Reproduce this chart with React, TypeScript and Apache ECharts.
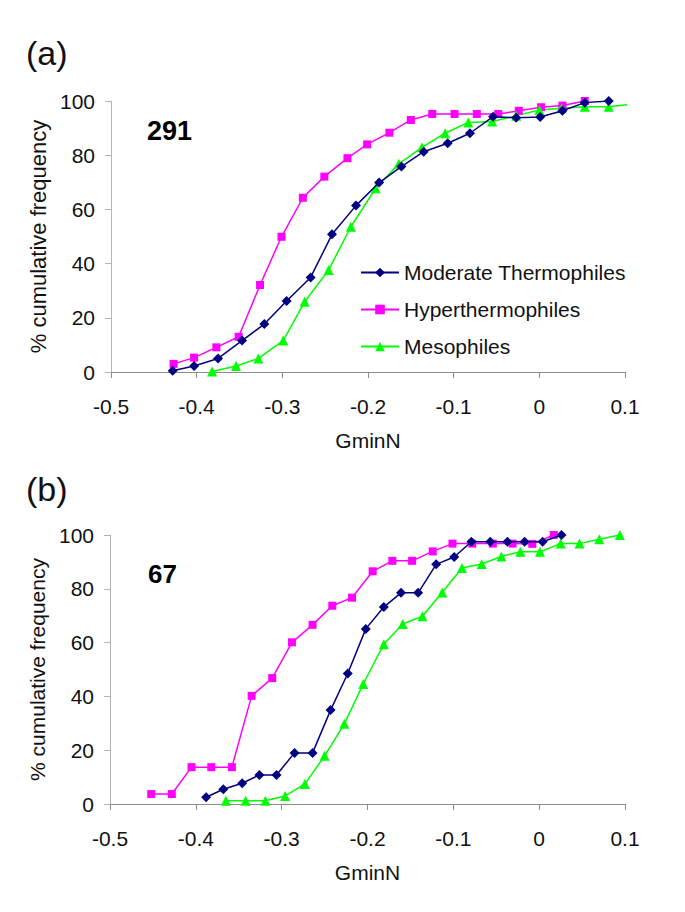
import React, { useEffect, useRef } from "react";
import * as echarts from "echarts";

// ---- Panel (a) data ----
const modA_x = [-0.428, -0.403, -0.375, -0.347, -0.321, -0.295, -0.267, -0.242, -0.214, -0.187, -0.161, -0.135, -0.107, -0.081, -0.054, -0.027, 0.001, 0.027, 0.053, 0.081];
const modA_y = [0.5, 2.2, 5.0, 11.6, 17.7, 26.2, 34.9, 50.8, 61.4, 69.9, 75.8, 81.3, 84.4, 88.1, 94.2, 93.8, 94.1, 96.4, 99.4, 100];
const hypA_x = [-0.427, -0.403, -0.377, -0.351, -0.326, -0.301, -0.276, -0.251, -0.224, -0.201, -0.175, -0.150, -0.125, -0.099, -0.073, -0.048, -0.024, 0.002, 0.027, 0.053];
const hypA_y = [3.0, 5.3, 9.1, 13.0, 32.1, 49.9, 64.3, 72.1, 78.9, 84.0, 88.3, 93.0, 95.2, 95.2, 95.2, 95.2, 96.4, 97.7, 98.3, 100];
const mesA_x = [-0.382, -0.354, -0.328, -0.299, -0.274, -0.246, -0.220, -0.191, -0.164, -0.137, -0.110, -0.083, -0.055, -0.027, 0.000, 0.026, 0.053, 0.081, 0.108];
const mesA_y = [0.2, 2.2, 5.0, 11.6, 25.9, 37.6, 53.6, 67.8, 76.8, 82.9, 88.1, 92.1, 92.4, 94.6, 96.7, 97.3, 97.9, 97.9, 98.8];

// ---- Panel (b) data ----
const modB_x = [-0.388, -0.368, -0.346, -0.326, -0.306, -0.285, -0.264, -0.243, -0.223, -0.202, -0.181, -0.161, -0.141, -0.120, -0.099, -0.079, -0.057, -0.037, -0.017, 0.004, 0.026];
const modB_y = [2.5, 5.5, 7.7, 10.8, 10.8, 19.0, 19.0, 34.9, 48.5, 65.1, 73.2, 78.5, 78.5, 89.1, 91.8, 97.5, 97.5, 97.5, 97.5, 97.5, 100];
const hypB_x = [-0.452, -0.428, -0.405, -0.382, -0.358, -0.335, -0.311, -0.288, -0.264, -0.241, -0.218, -0.194, -0.171, -0.148, -0.124, -0.101, -0.078, -0.054, -0.031, -0.008, 0.017];
const hypB_y = [3.7, 3.7, 13.7, 13.7, 13.7, 40.2, 46.8, 60.1, 66.6, 73.7, 76.7, 86.5, 90.4, 90.4, 93.9, 96.8, 96.8, 96.8, 96.8, 96.7, 100];
const mesB_x = [-0.365, -0.342, -0.319, -0.296, -0.273, -0.250, -0.227, -0.205, -0.181, -0.159, -0.136, -0.113, -0.090, -0.067, -0.044, -0.022, 0.001, 0.025, 0.047, 0.070, 0.094];
const mesB_y = [1.2, 1.2, 1.2, 3.0, 7.4, 17.9, 29.8, 44.6, 59.4, 66.9, 69.8, 78.6, 87.7, 89.2, 92.0, 93.8, 93.8, 96.8, 96.8, 98.4, 100];

const seriesNames = ["Moderate Thermophiles", "Hyperthermophiles", "Mesophiles"];
const seriesColors = ["#000080", "#FF00FF", "#00FF00"];
const seriesSymbols = ["diamond", "rect", "triangle"];
const seriesSymbolSizes = [10, 8, 10];

const panelLabels = ["(a)", "(b)"];
const panelCounts = ["291", "67"];
const xAxisTitle = "GminN";
const yAxisTitle = "% cumulative frequency";

const FONT = "'Liberation Sans', Arial, Helvetica, sans-serif";

const zip = (xs: number[], ys: number[]) => xs.map((x, i) => [x, ys[i]]);

export default function App() {
  const ref = useRef<HTMLDivElement>(null);
  useEffect(() => {
    if (!ref.current) return;
    const chart = echarts.init(ref.current, null, { renderer: "svg" });
    const panelData = [
      [zip(modA_x, modA_y), zip(hypA_x, hypA_y), zip(mesA_x, mesA_y)],
      [zip(modB_x, modB_y), zip(hypB_x, hypB_y), zip(mesB_x, mesB_y)],
    ];
    const xFmt = (v: number) => (Math.abs(v) < 1e-9 ? "0" : String(parseFloat(v.toFixed(1))));
    const mkX = (gi: number) => ({
      type: "value",
      gridIndex: gi,
      min: -0.5,
      max: 0.1,
      interval: 0.1,
      name: xAxisTitle,
      nameLocation: "middle",
      nameGap: 58,
      nameTextStyle: { fontSize: 21, color: "#111", fontFamily: FONT },
      axisLine: { show: true, onZero: false, lineStyle: { color: "#8c8c8c", width: 1 } },
      axisTick: { show: true, inside: false, length: 6, lineStyle: { color: "#8c8c8c" } },
      axisLabel: { fontSize: 21, color: "#111", fontFamily: FONT, margin: 24, formatter: xFmt },
      splitLine: { show: false },
    });
    const mkY = (gi: number, fs: number) => ({
      type: "value",
      gridIndex: gi,
      min: 0,
      max: 100,
      interval: 20,
      name: yAxisTitle,
      nameLocation: "middle",
      nameGap: 61,
      nameRotate: 90,
      nameTextStyle: { fontSize: fs, color: "#111", fontFamily: FONT },
      axisLine: { show: true, onZero: false, lineStyle: { color: "#b5b5b5", width: 1 } },
      axisTick: { show: true, inside: false, length: 6, lineStyle: { color: "#b5b5b5" } },
      axisLabel: { fontSize: 21, color: "#111", fontFamily: FONT, margin: 16 },
      splitLine: { show: false },
    });
    const series: any[] = [];
    panelData.forEach((pd, gi) => {
      pd.forEach((d, si) => {
        series.push({
          type: "line",
          name: seriesNames[si],
          xAxisIndex: gi,
          yAxisIndex: gi,
          data: d,
          symbol: seriesSymbols[si],
          symbolSize: seriesSymbolSizes[si],
          showAllSymbol: true,
          color: seriesColors[si],
          lineStyle: { color: seriesColors[si], width: 1.5 },
          itemStyle: { color: seriesColors[si] },
          clip: true,
          z: si === 0 ? 3 : 2,
        });
      });
    });
    chart.setOption({
      animation: false,
      backgroundColor: "#ffffff",
      textStyle: { fontFamily: FONT },
      grid: [
        { left: 111, top: 101, width: 514, height: 271, containLabel: false },
        { left: 110, top: 535, width: 515, height: 269, containLabel: false },
      ],
      xAxis: [mkX(0), mkX(1)],
      yAxis: [mkY(0, 22), mkY(1, 21)],
      legend: {
        orient: "vertical",
        left: 355,
        top: 257,
        itemWidth: 38,
        itemHeight: 12,
        itemGap: 16,
        data: seriesNames,
        selectedMode: false,
        textStyle: { fontSize: 21, color: "#111", fontFamily: FONT },
      },
      graphic: [
        { type: "text", left: 26, top: 36, style: { text: panelLabels[0], fontSize: 34, fill: "#111", fontFamily: FONT } },
        { type: "text", left: 26, top: 472, style: { text: panelLabels[1], fontSize: 34, fill: "#111", fontFamily: FONT } },
        { type: "text", left: 147, top: 117, style: { text: panelCounts[0], fontSize: 27, fontWeight: "bold", fill: "#000", fontFamily: FONT } },
        { type: "text", left: 148, top: 561, style: { text: panelCounts[1], fontSize: 26, fontWeight: "bold", fill: "#000", fontFamily: FONT } },
      ],
      series,
    });
    return () => chart.dispose();
  }, []);
  return (
    <div
      ref={ref}
      style={{ position: "fixed", left: 0, top: 0, width: 685, height: 912, background: "#fff" }}
    />
  );
}
